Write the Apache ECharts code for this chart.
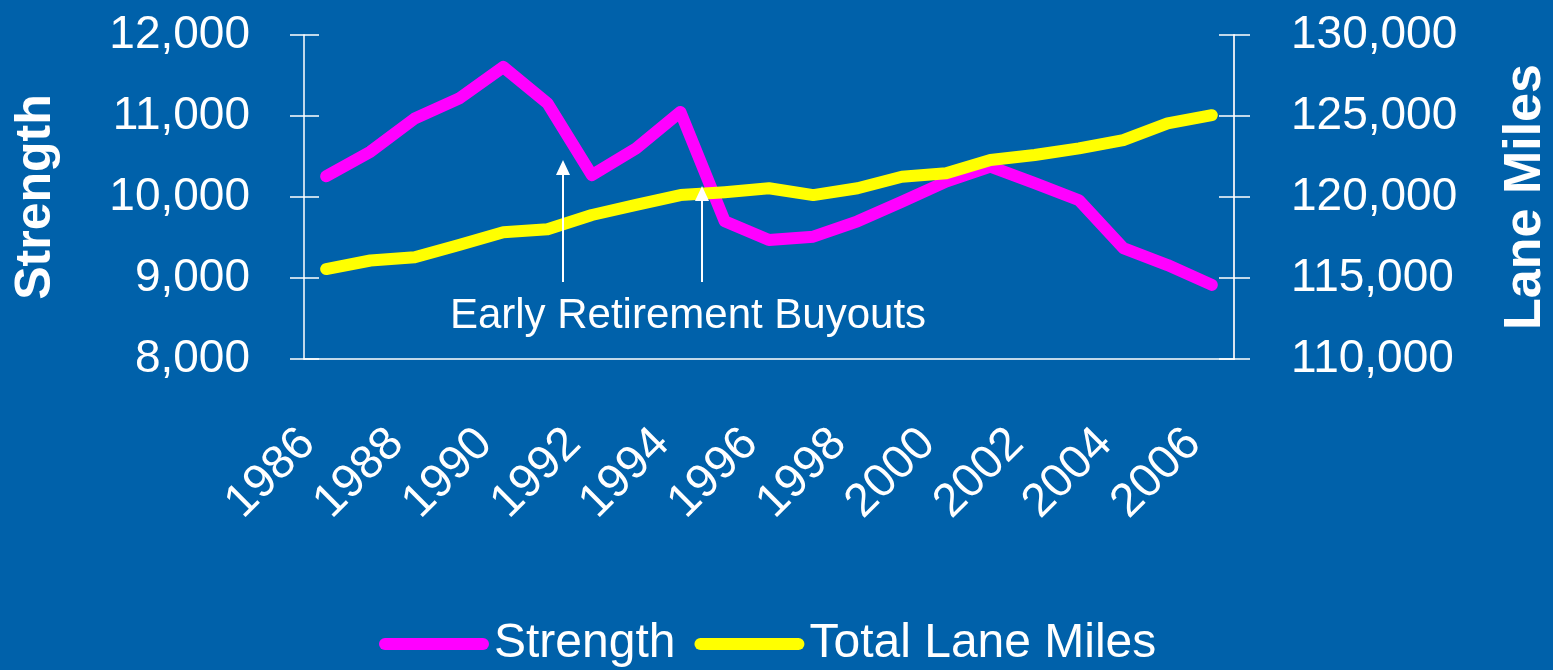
<!DOCTYPE html>
<html>
<head>
<meta charset="utf-8">
<script src="https://cdn.jsdelivr.net/npm/echarts@6/dist/echarts.min.js"></script>
<style>
  html, body { margin: 0; padding: 0; background: #0061AA; }
  #chart { width: 1553px; height: 670px; }
</style>
</head>
<body>
<div id="chart"></div>
<script>
// values
const years = ['1986', '1987', '1988', '1989', '1990', '1991', '1992', '1993', '1994', '1995', '1996',
  '1997', '1998', '1999', '2000', '2001', '2002', '2003', '2004', '2005', '2006']
const strength = [10255, 10560, 10970, 11215, 11605, 11155, 10270, 10600, 11050, 9700, 9470,
  9510, 9700, 9940, 10190, 10375, 10170, 9960, 9370, 9160, 8915]
const laneMiles = [115550, 116080, 116280, 117040, 117830, 118010, 118890, 119510, 120120, 120300, 120540,
  120120, 120540, 121250, 121460, 122280, 122590, 123000, 123510, 124540, 125050]
const strengthAxis = { min: 8000, max: 12000, interval: 1000 }
const milesAxis = { min: 110000, max: 130000, interval: 5000 }
const annotationText = 'Early Retirement Buyouts'

const white = '#ffffff'
const font = '"Liberation Sans", Arial, sans-serif'
const fmt = v => v.toLocaleString('en-US')

const chart = echarts.init(document.getElementById('chart'))

const legendIcon = 'path://M6,0 H104 A6,6 0 0 1 104,12 H6 A6,6 0 0 1 6,0 Z'

chart.setOption({
  animation: false,
  backgroundColor: '#0061AA',
  textStyle: { fontFamily: font },
  grid: { left: 304, right: 319, top: 35, bottom: 311, outerBoundsMode: 'none', containLabel: false },
  legend: {
    top: 615,
    left: 374,
    itemWidth: 110,
    itemHeight: 12,
    itemGap: 19,
    textStyle: { color: white, fontSize: 48, fontFamily: font },
    data: [
      { name: 'Strength', icon: legendIcon },
      { name: 'Total Lane Miles', icon: legendIcon }
    ]
  },
  xAxis: [
    {
      type: 'category',
      data: years,
      position: 'bottom',
      boundaryGap: true,
      axisLine: { lineStyle: { color: white, width: 1.5 } },
      axisTick: { interval: 0, length: 16, lineStyle: { color: white, width: 1.5 } },
      axisLabel: {
        interval: 1, rotate: 45, margin: 59, padding: [0, 26, 0, 0],
        color: white, fontSize: 47, fontFamily: font
      }
    },
    {
      type: 'category',
      data: years,
      position: 'bottom',
      boundaryGap: true,
      axisLine: { show: false },
      axisTick: { interval: 0, inside: true, length: 16, lineStyle: { color: white, width: 1.5 } },
      axisLabel: { show: false }
    }
  ],
  yAxis: [
    {
      type: 'value',
      position: 'left',
      min: strengthAxis.min,
      max: strengthAxis.max,
      interval: strengthAxis.interval,
      name: 'Strength',
      nameLocation: 'middle',
      nameGap: 243,
      nameTextStyle: { color: white, fontSize: 50, fontWeight: 'bold', fontFamily: font },
      splitLine: { show: false },
      axisLine: { show: true, lineStyle: { color: white, width: 1.5 } },
      axisTick: { show: true, length: 14, lineStyle: { color: white, width: 1.5 } },
      axisLabel: { margin: 54, color: white, fontSize: 46, fontFamily: font, formatter: fmt }
    },
    {
      type: 'value',
      position: 'right',
      min: milesAxis.min,
      max: milesAxis.max,
      interval: milesAxis.interval,
      name: 'Lane Miles',
      nameLocation: 'middle',
      nameGap: 266,
      nameTextStyle: { color: white, fontSize: 52, fontWeight: 'bold', fontFamily: font },
      splitLine: { show: false },
      axisLine: { show: true, lineStyle: { color: '#d8e2ee', width: 2 } },
      axisTick: { show: true, length: 16, lineStyle: { color: white, width: 1.5 } },
      axisLabel: { margin: 57, color: white, fontSize: 46, fontFamily: font, formatter: fmt }
    },
    {
      type: 'value',
      position: 'left',
      min: strengthAxis.min,
      max: strengthAxis.max,
      interval: strengthAxis.interval,
      splitLine: { show: false },
      axisLine: { show: false },
      axisTick: { show: true, inside: true, length: 15, lineStyle: { color: white, width: 1.5 } },
      axisLabel: { show: false }
    },
    {
      type: 'value',
      position: 'right',
      min: milesAxis.min,
      max: milesAxis.max,
      interval: milesAxis.interval,
      splitLine: { show: false },
      axisLine: { show: false },
      axisTick: { show: true, inside: true, length: 15, lineStyle: { color: white, width: 1.5 } },
      axisLabel: { show: false }
    }
  ],
  series: [
    {
      name: 'Strength',
      type: 'line',
      xAxisIndex: 0,
      yAxisIndex: 0,
      data: strength,
      symbol: 'none',
      color: '#ff00ff',
      lineStyle: { width: 12, color: '#ff00ff', cap: 'round', join: 'round' }
    },
    {
      name: 'Total Lane Miles',
      type: 'line',
      xAxisIndex: 0,
      yAxisIndex: 1,
      data: laneMiles,
      symbol: 'none',
      color: '#ffff00',
      lineStyle: { width: 12, color: '#ffff00', cap: 'round', join: 'round' }
    }
  ],
  // annotation: two arrows and a caption
  graphic: [
    { type: 'line', z: 100, shape: { x1: 563, y1: 282, x2: 563, y2: 172 }, style: { stroke: white, lineWidth: 2 } },
    { type: 'polygon', z: 100, shape: { points: [[556, 175], [570, 175], [563, 160]] }, style: { fill: white } },
    { type: 'line', z: 100, shape: { x1: 702, y1: 282, x2: 702, y2: 198 }, style: { stroke: white, lineWidth: 2 } },
    { type: 'polygon', z: 100, shape: { points: [[695, 201], [709, 201], [702, 186]] }, style: { fill: white } },
    {
      type: 'text', z: 100, x: 688, y: 316,
      style: { text: annotationText, fill: white, fontSize: 42, fontFamily: font, align: 'center', verticalAlign: 'middle' }
    }
  ]
})
</script>
</body>
</html>
